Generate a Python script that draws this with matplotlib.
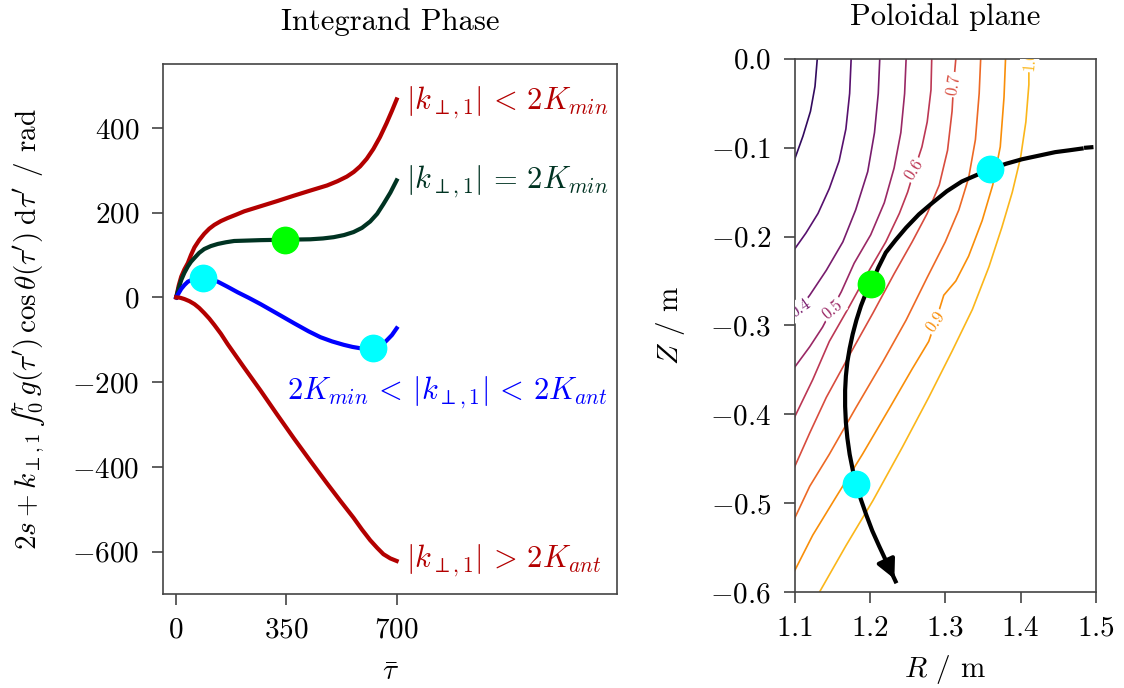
import numpy as np
import matplotlib
matplotlib.use("Agg")
import matplotlib.pyplot as plt
from matplotlib.colors import Normalize

plt.rcParams['font.family'] = 'serif'
plt.rcParams['font.serif'] = ['cmr10']
plt.rcParams['mathtext.fontset'] = 'cm'
plt.rcParams['axes.formatter.use_mathtext'] = True
plt.rcParams['font.size'] = 21

# ---- integrand phase curves (tau, phase in rad)
tau_lt_min = [0, 8, 16, 26, 37, 47, 58, 73, 89, 105, 121, 142, 163, 190, 216, 242, 268, 320,
              374, 426, 479, 512, 542, 564, 584, 605, 626, 647, 668, 685, 700]
ph_lt_min = [0, 28, 49, 66, 81, 100, 118, 135, 150, 162, 171, 180, 187, 195, 203, 209, 215, 227,
             240, 252, 264, 274, 285, 296, 309, 327, 350, 378, 411, 440, 467]

tau_eq_min = [0, 8, 16, 26, 37, 47, 58, 73, 89, 110, 132, 158, 184, 226, 268, 344, 426, 466,
              500, 533, 563, 590, 616, 638, 658, 680, 700]
ph_eq_min = [0, 22, 41, 58, 73, 84, 93, 105, 114, 121, 126, 130, 133, 134, 135, 136, 137, 139,
             142, 147, 154, 164, 179, 197, 220, 247, 276]

tau_mid = [0, 8, 16, 26, 37, 52, 68, 89, 110, 132, 163, 195, 230, 268, 320, 374, 420, 458,
           495, 532, 560, 584, 610, 637, 655, 668, 685, 700]
ph_mid = [0, 10, 20, 29, 37, 42, 45, 45, 42, 37, 25, 12, -1, -16, -38, -61, -80, -94,
          -104, -112, -117, -120, -121, -118, -111, -102, -89, -73]

tau_gt_ant = [0, 13, 26, 42, 58, 73, 89, 105, 121, 142, 163, 215, 268, 320, 374, 426, 479,
              521, 563, 590, 616, 638, 658, 680, 700]
ph_gt_ant = [0, -1, -4, -9, -16, -25, -37, -50, -65, -86, -110, -165, -220, -276, -333, -386,
             -439, -480, -520, -548, -573, -591, -606, -616, -622]

green_pt = (344, 136)
cyan_pts_tau = [84, 626]
cyan_pts_ph = [45, -120]

# ---- poloidal plane: flux contours (R, Z in m)
levels = [0.2, 0.3, 0.4, 0.5, 0.6, 0.7, 0.8, 0.9, 1.0]
cont_R = [
    [1.130, 1.127, 1.121, 1.111, 1.100],
    [1.175, 1.173, 1.168, 1.159, 1.146, 1.131, 1.115, 1.100],
    [1.213, 1.211, 1.206, 1.197, 1.181, 1.164, 1.142, 1.120, 1.100],
    [1.248, 1.246, 1.241, 1.232, 1.219, 1.201, 1.179, 1.162, 1.150, 1.137, 1.120, 1.100],
    [1.282, 1.281, 1.276, 1.269, 1.259, 1.250, 1.239, 1.221, 1.199, 1.173, 1.146, 1.124, 1.100],
    [1.314, 1.311, 1.309, 1.303, 1.292, 1.276, 1.256, 1.232, 1.204, 1.173, 1.142, 1.120, 1.100],
    [1.347, 1.345, 1.340, 1.331, 1.318, 1.300, 1.276, 1.248, 1.217, 1.181, 1.146, 1.120, 1.100],
    [1.380, 1.378, 1.373, 1.363, 1.349, 1.331, 1.314, 1.298, 1.287, 1.278, 1.256, 1.226, 1.190, 1.155, 1.124, 1.100],
    [1.411, 1.411, 1.407, 1.400, 1.389, 1.375, 1.358, 1.336, 1.309, 1.278, 1.243, 1.204, 1.168, 1.133],
]
cont_Z = [
    [0, -0.031, -0.059, -0.087, -0.113],
    [0, -0.039, -0.079, -0.115, -0.146, -0.174, -0.196, -0.214],
    [0, -0.039, -0.083, -0.127, -0.170, -0.206, -0.238, -0.266, -0.288],
    [0, -0.039, -0.083, -0.123, -0.162, -0.198, -0.230, -0.262, -0.281, -0.302, -0.324, -0.347],
    [0, -0.035, -0.071, -0.099, -0.125, -0.150, -0.174, -0.206, -0.238, -0.278, -0.318, -0.361, -0.403],
    [0, -0.029, -0.059, -0.103, -0.142, -0.174, -0.206, -0.242, -0.286, -0.333, -0.381, -0.421, -0.459],
    [0, -0.039, -0.091, -0.134, -0.170, -0.206, -0.246, -0.294, -0.341, -0.393, -0.445, -0.481, -0.517],
    [0, -0.043, -0.099, -0.142, -0.182, -0.222, -0.250, -0.266, -0.296, -0.318, -0.349, -0.393, -0.445, -0.493, -0.536, -0.576],
    [0, -0.029, -0.071, -0.111, -0.150, -0.190, -0.234, -0.282, -0.329, -0.381, -0.437, -0.497, -0.548, -0.600],
]
# contour labels: level, R, Z, rotation
clabels = [
    (0.4, 1.107, -0.281, 35),
    (0.5, 1.150, -0.282, 40),
    (0.6, 1.259, -0.125, 58),
    (0.7, 1.311, -0.029, 80),
    (0.9, 1.287, -0.296, 55),
    (1.0, 1.412, -0.001, 85),
]

ray_R = [1.481, 1.464, 1.446, 1.424, 1.402, 1.381, 1.360, 1.341, 1.322, 1.302, 1.283, 1.265,
         1.248, 1.234, 1.221, 1.211, 1.202, 1.194, 1.188, 1.182, 1.177, 1.173, 1.170, 1.168,
         1.167, 1.167, 1.168, 1.170, 1.173, 1.177, 1.181, 1.188, 1.195, 1.203, 1.212, 1.223, 1.234]
ray_Z = [-0.101, -0.103, -0.105, -0.109, -0.113, -0.118, -0.124, -0.131, -0.138, -0.149, -0.162,
         -0.175, -0.190, -0.204, -0.218, -0.235, -0.253, -0.265, -0.278, -0.294, -0.310, -0.326,
         -0.341, -0.357, -0.373, -0.391, -0.409, -0.427, -0.445, -0.462, -0.478, -0.496, -0.513,
         -0.531, -0.548, -0.568, -0.588]
green_RZ = (1.202, -0.253)
cyan_R = [1.360, 1.181]
cyan_Z = [-0.124, -0.478]

RED = '#b30000'
DKGREEN = '#003322'
BLUE = '#0000ff'

fig = plt.figure(figsize=(11.24, 6.88), dpi=100)
ax1 = fig.add_axes([0.145, 0.1366, 0.404, 0.770])
ax2 = fig.add_axes([0.707, 0.1395, 0.268, 0.775])

for ax in (ax1, ax2):
    for s in ax.spines.values():
        s.set_linewidth(1.2)
        s.set_color('#444444')
    ax.tick_params(length=8, width=1.2, color='#444444', labelsize=21, pad=9)

# left panel
ax1.plot(tau_lt_min, ph_lt_min, color=RED, lw=3, solid_joinstyle='round')
ax1.plot(tau_eq_min, ph_eq_min, color=DKGREEN, lw=3, solid_joinstyle='round')
ax1.plot(tau_mid, ph_mid, color=BLUE, lw=3, solid_joinstyle='round')
ax1.plot(tau_gt_ant, ph_gt_ant, color=RED, lw=3, solid_joinstyle='round')
ax1.plot([green_pt[0]], [green_pt[1]], 'o', color='#00ff00', ms=19, zorder=5)
ax1.plot(cyan_pts_tau, cyan_pts_ph, 'o', color='#00ffff', ms=19, zorder=5)

ax1.text(730, 459, r'$|k_{\perp,1}|\, <\, 2K_{min}$', color=RED, fontsize=22, va='center')
ax1.text(730, 272, r'$|k_{\perp,1}|\, =\, 2K_{min}$', color=DKGREEN, fontsize=22, va='center')
ax1.text(352, -225, r'$2K_{min}\, <\, |k_{\perp,1}|\, <\, 2K_{ant}$', color=BLUE, fontsize=22, va='center')
ax1.text(730, -622, r'$|k_{\perp,1}|\, >\, 2K_{ant}$', color=RED, fontsize=22, va='center')

ax1.set_xlim(-42, 1400)
ax1.set_ylim(-700, 550)
ax1.set_xticks([0, 350, 700])
ax1.set_yticks([-600, -400, -200, 0, 200, 400])
ax1.set_xlabel(r'$\bar{\tau}$', fontsize=21, labelpad=11)
ax1.set_ylabel("$2s + k_{\\perp,1}\\, \u222b_0^\\tau\\, g(\\tau')\\,\\cos\\theta(\\tau')\\;\\mathrm{d}\\tau'$ / rad",
               fontsize=21, labelpad=18)
ax1.set_title('Integrand Phase', fontsize=22, pad=25)

# right panel
cmap = plt.get_cmap('inferno')
norm = Normalize(0.0, 1.2)
for lev, rr, zz in zip(levels, cont_R, cont_Z):
    ax2.plot(rr, zz, color=cmap(norm(lev)), lw=1.2, solid_joinstyle='round')
for lev, r, z, rot in clabels:
    ax2.text(r, z, '%.1f' % lev, color=cmap(norm(lev)), fontsize=12, rotation=rot,
             ha='center', va='center', rotation_mode='anchor', clip_on=True,
             bbox=dict(fc='white', ec='none', pad=1.5), zorder=3)

ax2.plot(ray_R, ray_Z, color='k', lw=3, zorder=4, solid_joinstyle='round')
ax2.plot([1.487, 1.494], [-0.1, -0.0995], color='k', lw=3, zorder=4)
ax2.annotate('', xy=(ray_R[-1], ray_Z[-1]), xytext=(ray_R[-2], ray_Z[-2]),
             arrowprops=dict(arrowstyle='-|>', color='k', lw=3, mutation_scale=28), zorder=4)
ax2.plot([green_RZ[0]], [green_RZ[1]], 'o', color='#00ff00', ms=19, zorder=5)
ax2.plot(cyan_R, cyan_Z, 'o', color='#00ffff', ms=19, zorder=5)

ax2.set_xlim(1.1, 1.5)
ax2.set_ylim(-0.6, 0)
ax2.set_xticks([1.1, 1.2, 1.3, 1.4, 1.5])
ax2.set_yticks([0, -0.1, -0.2, -0.3, -0.4, -0.5, -0.6])
ax2.set_xlabel('$R$ / m', fontsize=21, labelpad=8)
ax2.set_ylabel('$Z$ / m', fontsize=21, labelpad=17)
ax2.set_title('Poloidal plane', fontsize=22, pad=24)

fig.savefig('out.png', dpi=100)
